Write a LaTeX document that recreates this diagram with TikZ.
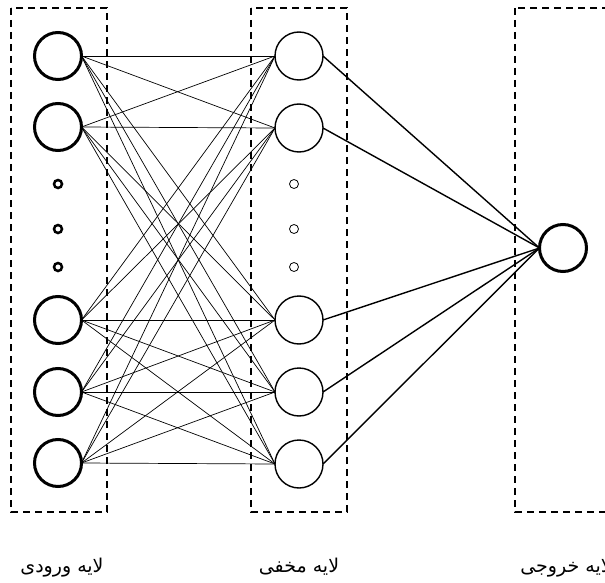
\documentclass[tikz,border=0pt]{standalone}
\usepackage{fontspec}
\newfontfamily\arabicfont[Script=Arabic]{DejaVu Sans}
\TeXXeTstate=1
\begin{document}
\begin{tikzpicture}[x=1pt,y=-1pt,
  layerbox/.style={draw,dashed,dash pattern=on 7pt off 5pt,line width=1.3pt},
  bignode/.style={circle,draw,line width=3pt,minimum size=47pt,inner sep=0pt,outer sep=0pt},
  hidnode/.style={circle,draw,line width=1.4pt,minimum size=48pt,inner sep=0pt,outer sep=0pt},
  bigdot/.style={circle,draw,line width=2.5pt,minimum size=8pt,inner sep=0pt},
  hiddot/.style={circle,draw,line width=0.8pt,minimum size=9pt,inner sep=0pt},
  weight/.style={line width=0.7pt},
  outweight/.style={line width=1.4pt},
  label/.style={font=\arabicfont\fontsize{19}{22}\selectfont,inner sep=0pt,anchor=base}]
\useasboundingbox (0,0) rectangle (605,583);
\clip (0,0) rectangle (605,583);

% dashed frames of the three layers
\draw[layerbox] (11,8) rectangle (107,512);
\draw[layerbox] (251,8) rectangle (347,512);
\draw[layerbox] (515,8) rectangle (640,512);

% input layer
\foreach \n/\y in {1/56,2/127,3/320,4/392,5/463}
  \node[bignode] (i\n) at (58,\y) {};
\foreach \n/\y in {1/184,2/229,3/267}
  \node[bigdot] (id\n) at (58,\y) {};

% hidden layer
\foreach \n/\y in {1/56,2/128,3/320,4/392,5/464}
  \node[hidnode] (h\n) at (299,\y) {};
\foreach \n/\y in {1/184,2/229,3/267}
  \node[hiddot] (hd\n) at (294,\y) {};

% output layer
\node[bignode] (o) at (563,248) {};

% connections
\foreach \a in {1,...,5}
  \foreach \b in {1,...,5}
    \draw[weight] (i\a.east) -- (h\b.west);
\foreach \b in {1,...,5}
  \draw[outweight] (h\b.east) -- (o.west);

% layer names
\node[label] (l1) at (62,572) {\beginR لایه ورودی\endR};
\node[label] (l2) at (299,572) {\beginR لایه مخفی\endR};
\node[label] (l3) at (566,572) {\beginR لایه خروجی\endR};
\end{tikzpicture}
\end{document}
